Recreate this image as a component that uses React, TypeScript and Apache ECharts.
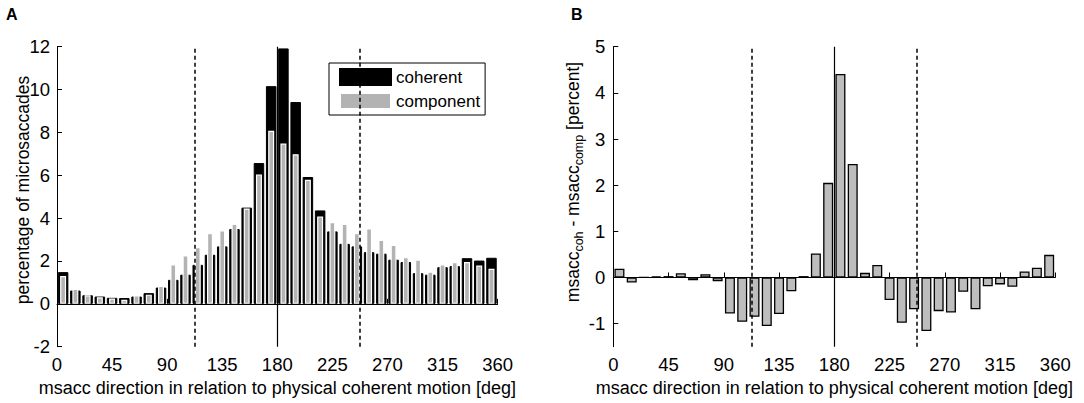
import React, { useEffect, useRef } from "react";
import * as echarts from "echarts";

// Bin centres (10-degree bins)
const binCenters = [
  5, 15, 25, 35, 45, 55, 65, 75, 85, 95, 105, 115, 125, 135, 145, 155, 165, 175,
  185, 195, 205, 215, 225, 235, 245, 255, 265, 275, 285, 295, 305, 315, 325, 335, 345, 355,
];

// Panel A: percentage of microsaccades
const coherent = [
  1.48, 0.62, 0.40, 0.34, 0.28, 0.27, 0.34, 0.50, 0.76, 1.12, 1.36, 1.82, 2.29, 2.68, 3.49, 4.49,
  6.57, 10.16, 11.92, 9.42, 5.92, 4.36, 3.38, 2.80, 2.68, 2.41, 2.34, 2.06, 1.95, 1.43, 1.36, 1.71,
  1.76, 2.13, 2.02, 2.15,
];
const component = [
  1.30, 0.70, 0.40, 0.31, 0.25, 0.19, 0.40, 0.43, 0.84, 1.85, 2.26, 2.65, 3.30, 3.43, 3.74, 4.45,
  6.04, 8.08, 7.48, 6.98, 5.79, 4.08, 3.82, 3.74, 3.30, 3.52, 2.99, 2.76, 2.18, 2.07, 1.51, 1.85,
  1.95, 1.95, 1.79, 1.64,
];

// Panel B: coherent minus component
const difference = [
  0.19, -0.11, 0.005, 0.02, 0.03, 0.09, -0.06, 0.07, -0.08, -0.78, -0.96, -0.85, -1.05, -0.79,
  -0.30, 0.03, 0.52, 2.05, 4.41, 2.46, 0.10, 0.27, -0.49, -0.98, -0.69, -1.16, -0.73, -0.76, -0.31,
  -0.69, -0.19, -0.15, -0.20, 0.13, 0.21, 0.49,
];

const yTicksB = [-1, 0, 1, 2, 3, 4, 5];
const dashedLinesDeg = [112.5, 247.5];
const solidLinesDeg = [180];

const xName = "msacc direction in relation to physical coherent motion [deg]";
const yNameA = "percentage of microsaccades";
const seriesNames = ["coherent", "component"];

const FONT = "'Liberation Sans', Arial, Helvetica, sans-serif";

export default function App() {
  const ref = useRef<HTMLDivElement>(null);

  useEffect(() => {
    const chart = echarts.init(ref.current!, null, { renderer: "svg" });
    const pairs = (vals: number[]) => binCenters.map((c, i) => [c, vals[i]]);

    const axisLine = { show: true, lineStyle: { color: "#000", width: 1 } };
    const axisTick = { show: true, inside: true, length: 5, lineStyle: { color: "#000", width: 1 } };
    const tickLabel = { color: "#000", fontSize: 18.5, fontFamily: FONT };

    const xAxisBase = (gridIndex: number) => ({
      type: "value",
      gridIndex,
      min: 0,
      max: 360,
      interval: 45,
      axisLine,
      axisTick,
      splitLine: { show: false },
      axisLabel: { ...tickLabel, margin: 8 },
      name: xName,
      nameLocation: "middle",
      nameGap: 30,
      nameTextStyle: { color: "#000", fontSize: 18, fontFamily: FONT },
    });

    const verticalLines = {
      silent: true,
      symbol: ["none", "none"],
      label: { show: false },
      data: [
        ...dashedLinesDeg.map((v) => ({ xAxis: v, lineStyle: { color: "#000", width: 1.5, type: [4, 3] } })),
        ...solidLinesDeg.map((v) => ({ xAxis: v, lineStyle: { color: "#000", width: 1.2, type: "solid" } })),
      ],
    };
    const baseLine = {
      silent: true,
      symbol: ["none", "none"],
      label: { show: false },
      data: [{ yAxis: 0, lineStyle: { color: "#000", width: 1, type: "solid" } }],
    };

    chart.setOption({
      animation: false,
      backgroundColor: "#fff",
      textStyle: { fontFamily: FONT },
      grid: [
        { left: 57, top: 46.7, width: 440.6, height: 300 },
        { left: 613.3, top: 46.7, width: 442, height: 300 },
      ],
      xAxis: [
        xAxisBase(0),
        { type: "value", gridIndex: 0, min: 0, max: 360, interval: 45, show: false },
        xAxisBase(1),
      ],
      yAxis: [
        {
          type: "value",
          gridIndex: 0,
          min: -2,
          max: 12,
          interval: 2,
          axisLine,
          axisTick,
          splitLine: { show: false },
          axisLabel: { ...tickLabel, margin: 7 },
        },
        {
          type: "value",
          gridIndex: 1,
          min: -1.5,
          max: 5,
          axisLine,
          axisTick: { ...axisTick, customValues: yTicksB },
          splitLine: { show: false },
          axisLabel: { ...tickLabel, margin: 8, customValues: yTicksB },
        },
      ],
      legend: {
        data: seriesNames,
        orient: "vertical",
        left: 329,
        top: 63,
        icon: "rect",
        itemWidth: 51,
        itemHeight: 16,
        itemGap: 6,
        padding: [5, 5, 5, 10],
        borderColor: "#000",
        borderWidth: 1,
        backgroundColor: "#fff",
        selectedMode: false,
        textStyle: { color: "#000", fontSize: 17, fontFamily: FONT },
      },
      series: [
        {
          name: seriesNames[0],
          type: "bar",
          xAxisIndex: 0,
          yAxisIndex: 0,
          barWidth: 10.5,
          data: pairs(coherent),
          itemStyle: { color: "#000", borderColor: "#000", borderWidth: 1 },
          markLine: baseLine,
        },
        {
          name: seriesNames[1],
          type: "bar",
          xAxisIndex: 1,
          yAxisIndex: 0,
          barWidth: 6,
          data: pairs(component),
          itemStyle: { color: "#b3b3b3", borderColor: "#fff", borderWidth: 1.2 },
          markLine: verticalLines,
        },
        {
          name: "difference",
          type: "bar",
          xAxisIndex: 2,
          yAxisIndex: 1,
          barWidth: 10,
          data: pairs(difference),
          itemStyle: { color: "#bdbdbd", borderColor: "#000", borderWidth: 1.3 },
          markLine: {
            ...verticalLines,
            data: [...verticalLines.data, ...baseLine.data],
          },
        },
      ],
      graphic: [
        {
          type: "text",
          left: 6,
          top: 6,
          style: { text: "A", fontSize: 16, fontWeight: "bold", fill: "#000", fontFamily: FONT },
        },
        {
          type: "text",
          left: 571,
          top: 6,
          style: { text: "B", fontSize: 16, fontWeight: "bold", fill: "#000", fontFamily: FONT },
        },
        {
          type: "text",
          x: 22.5,
          y: 190,
          rotation: Math.PI / 2,
          style: {
            text: yNameA,
            fontSize: 17.5,
            fill: "#000",
            fontFamily: FONT,
            align: "center",
            verticalAlign: "middle",
          },
        },
        {
          type: "text",
          x: 573,
          y: 182,
          rotation: Math.PI / 2,
          style: {
            text: "{m|msacc}{s|coh}{m| - msacc}{s|comp}{m| [percent]}",
            fill: "#000",
            fontFamily: FONT,
            align: "center",
            verticalAlign: "middle",
            rich: {
              m: { fontSize: 17.5, lineHeight: 24, fill: "#000", fontFamily: FONT },
              s: { fontSize: 12.5, lineHeight: 12.5, verticalAlign: "bottom", fill: "#000", fontFamily: FONT },
            },
          },
        },
      ],
    });

    return () => chart.dispose();
  }, []);

  return (
    <div
      ref={ref}
      style={{ position: "fixed", left: 0, top: 0, width: 1084, height: 403, background: "#fff" }}
    />
  );
}
